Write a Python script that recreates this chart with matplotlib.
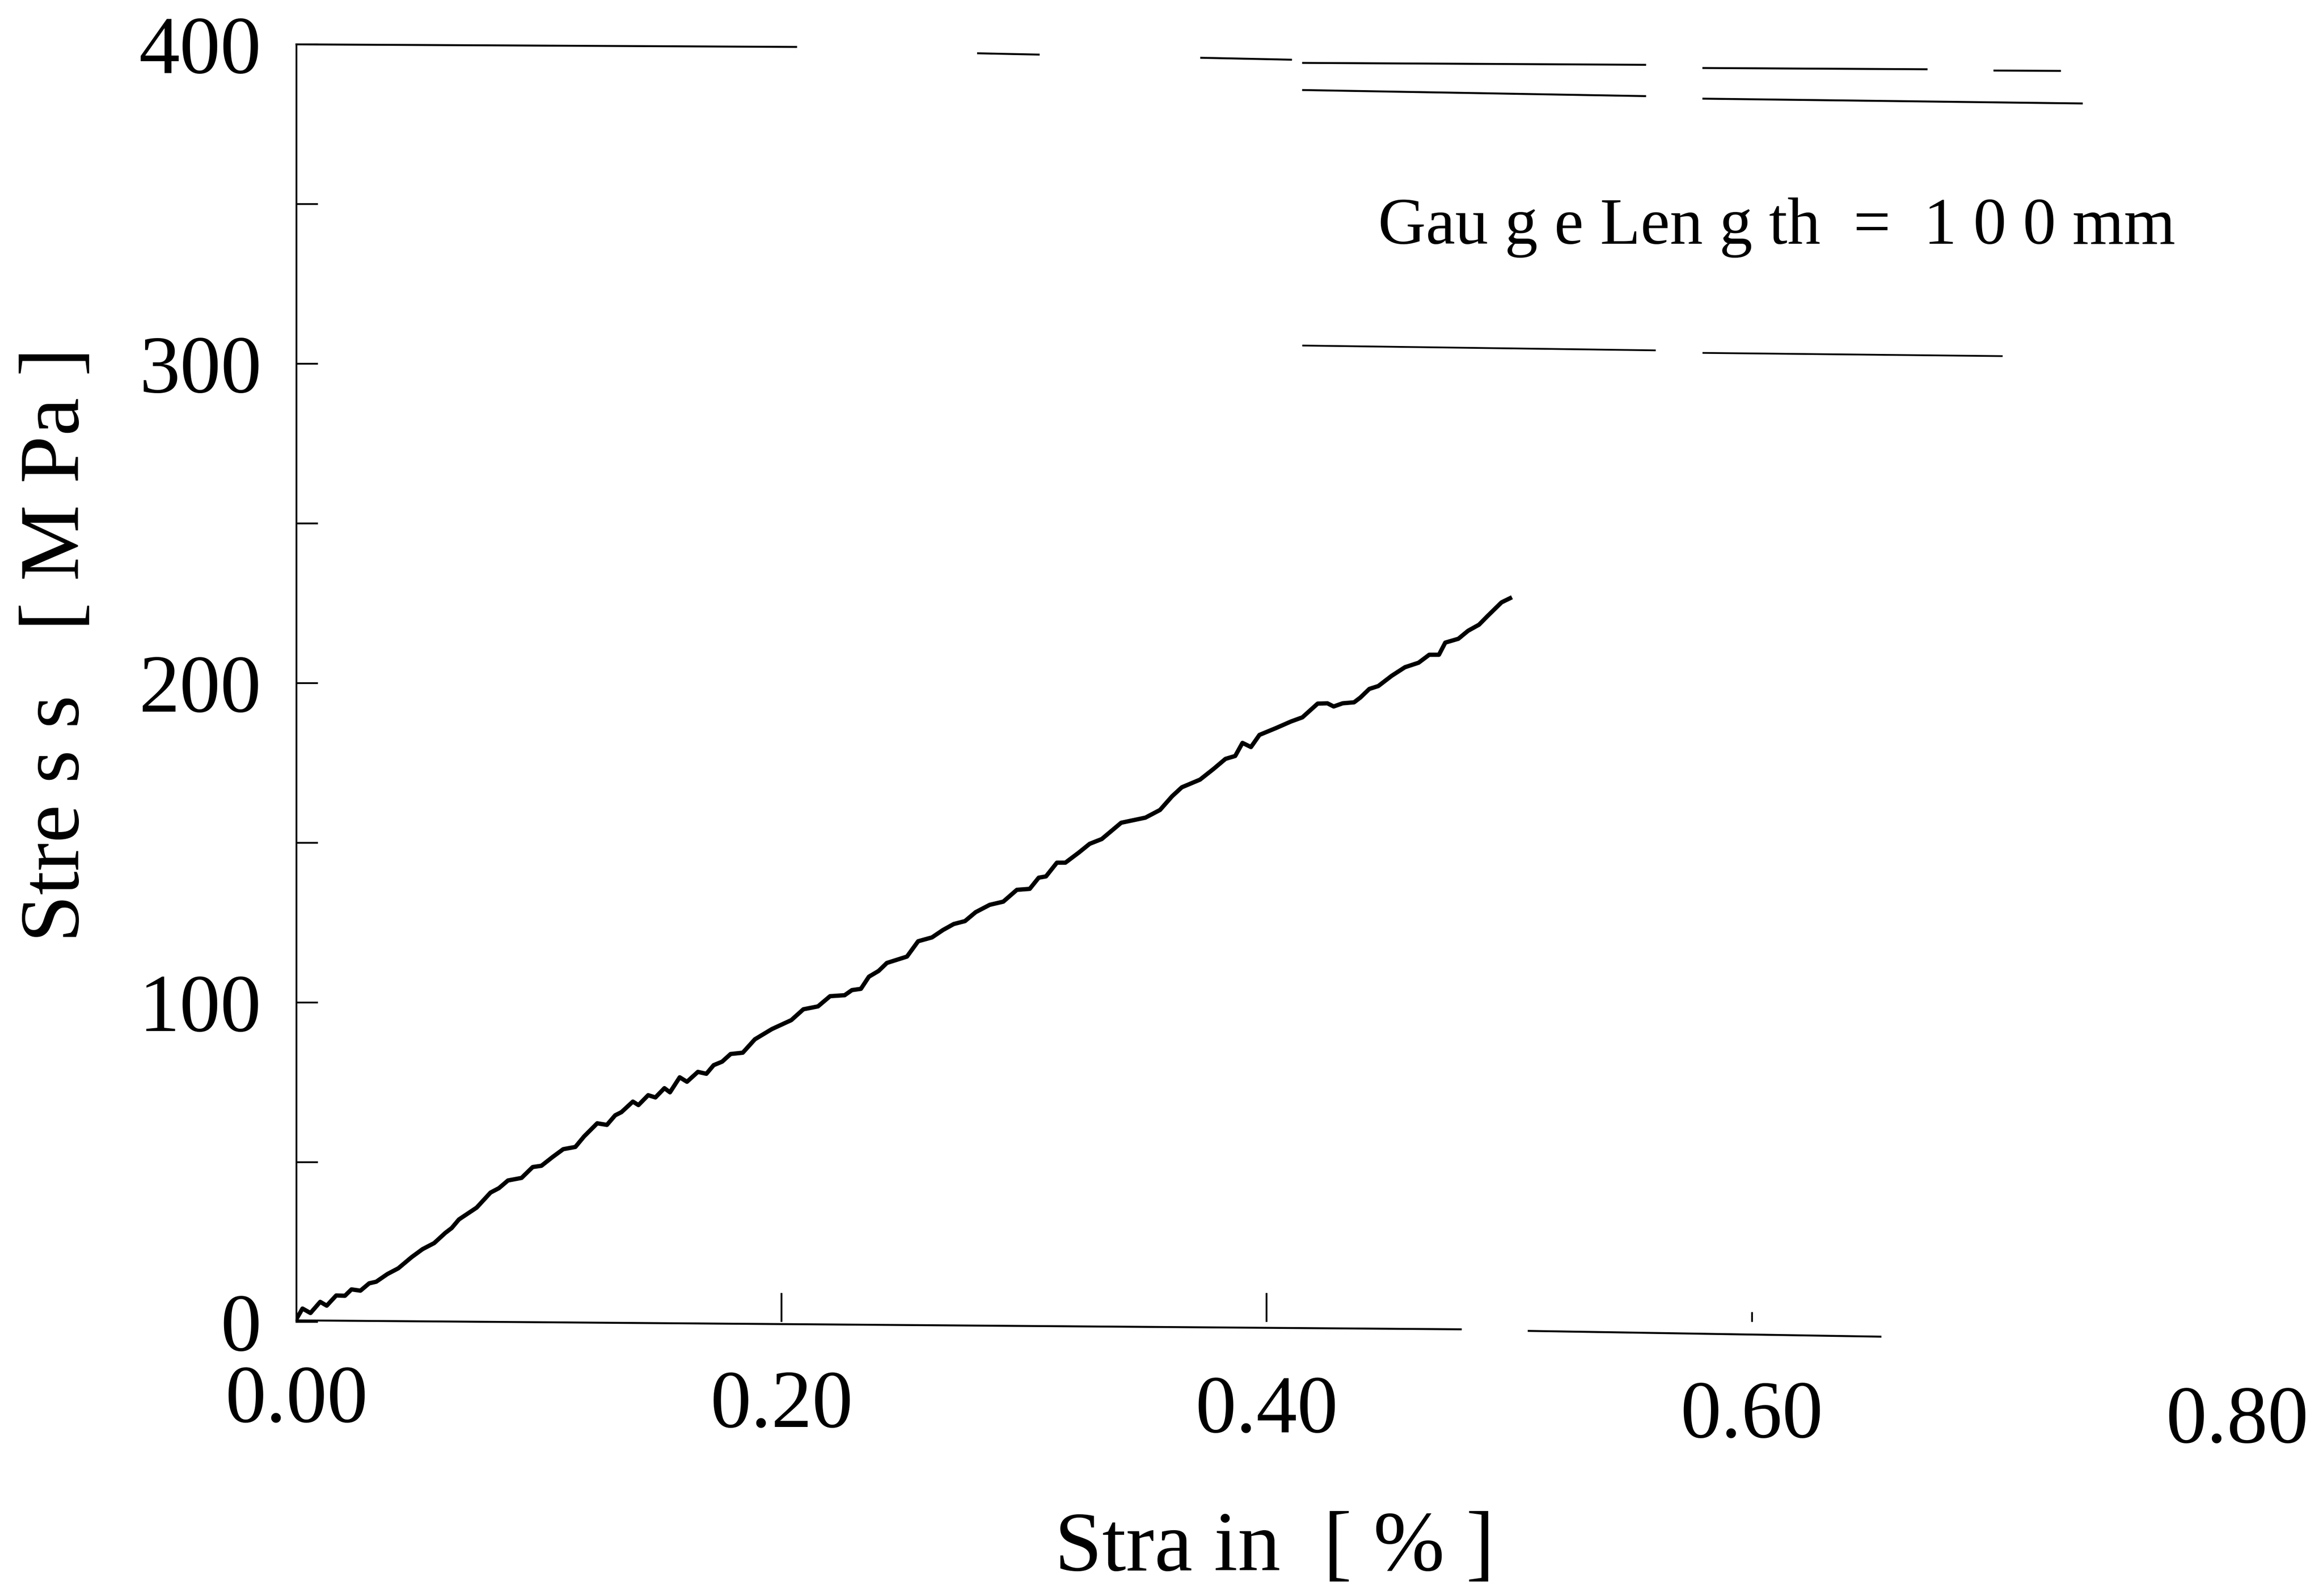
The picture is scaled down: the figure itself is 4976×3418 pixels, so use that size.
import numpy as np
import matplotlib
matplotlib.use('Agg')
import matplotlib.pyplot as plt

# stress-strain curve
strain = [0.0, 0.0025, 0.0058, 0.0098, 0.0125, 0.0164, 0.020, 0.0227, 0.0264, 0.030,
          0.0329, 0.0375, 0.042, 0.0475, 0.052, 0.0568, 0.0614, 0.064, 0.067, 0.0743,
          0.080, 0.0835, 0.0872, 0.0928, 0.0974, 0.101, 0.1057, 0.110, 0.115, 0.1186,
          0.124, 0.128, 0.1314, 0.134, 0.1387, 0.141, 0.145, 0.148, 0.1517, 0.154,
          0.158, 0.161, 0.1655, 0.169, 0.172, 0.1755, 0.179, 0.184, 0.189, 0.196,
          0.204, 0.209, 0.215, 0.220, 0.226, 0.229, 0.2327, 0.236, 0.240, 0.2434,
          0.2517, 0.2563, 0.262, 0.2665, 0.271, 0.2756, 0.280, 0.2858, 0.2914, 0.297,
          0.3023, 0.306, 0.309, 0.3135, 0.317, 0.3226, 0.327, 0.332, 0.340, 0.350,
          0.356, 0.361, 0.365, 0.3725, 0.378, 0.383, 0.387, 0.390, 0.3935, 0.397,
          0.404, 0.410, 0.4147, 0.421, 0.425, 0.4276, 0.4313, 0.436, 0.4386, 0.4423,
          0.446, 0.4515, 0.457, 0.4626, 0.467, 0.471, 0.4736, 0.479, 0.483, 0.4875,
          0.491, 0.4968, 0.5003]
stress = [0.9, 4.2, 2.8, 6.3, 5.1, 8.3, 8.2, 10.2, 9.8, 12.1,
          12.6, 15.0, 16.8, 20.3, 22.8, 24.7, 27.9, 29.4, 32.1, 35.8,
          40.5, 41.9, 44.3, 45.1, 48.5, 48.9, 51.7, 54.1, 54.8, 58.1,
          62.2, 61.7, 64.7, 65.7, 69.0, 67.9, 71.0, 70.3, 73.2, 71.9,
          76.6, 75.2, 78.3, 77.7, 80.4, 81.5, 83.9, 84.3, 88.5, 91.7,
          94.5, 97.9, 98.8, 102.0, 102.3, 103.9, 104.3, 108.1, 109.9, 112.4,
          114.4, 119.2, 120.4, 122.7, 124.6, 125.5, 128.3, 130.6, 131.6, 135.3,
          135.6, 139.1, 139.5, 143.8, 143.8, 147.0, 149.7, 151.2, 156.3, 157.9,
          160.3, 164.6, 167.4, 169.8, 173.1, 176.3, 177.2, 181.3, 180.0, 183.8,
          186.0, 188.0, 189.3, 193.6, 193.7, 192.7, 193.7, 194.0, 195.5, 198.2,
          199.1, 202.3, 205.0, 206.4, 208.9, 208.9, 212.7, 213.9, 216.4, 218.3,
          221.0, 225.3, 226.6]

# frame lines as they appear on the (slightly tilted) scan, NaN = gap
top_x = [0.0, 0.206, np.nan, 0.281, 0.306, np.nan, 0.373, 0.41, np.nan, 0.415, 0.556, np.nan,
         0.580, 0.672, np.nan, 0.700, 0.727]
top_y = [400.0, 399.2, np.nan, 397.2, 396.8, np.nan, 395.8, 395.2, np.nan, 394.2, 393.6, np.nan,
         392.6, 392.2, np.nan, 391.8, 391.7]
bottom_x = [0.0, 0.48, np.nan, 0.508, 0.653]
bottom_y = [0.5, -2.3, np.nan, -2.8, -4.6]

# stray horizontal traces on the scan
streak1_x = [0.415, 0.556, np.nan, 0.580, 0.736]
streak1_y = [385.7, 383.8, np.nan, 383.0, 381.5]
streak2_x = [0.415, 0.560, np.nan, 0.580, 0.703]
streak2_y = [305.7, 304.2, np.nan, 303.4, 302.4]

xticks = [0.0, 0.2, 0.4, 0.6, 0.8]
xtick_labels = ['0.00', '0.20', '0.40', '0.60', '0.80']
yticks = [0, 50, 100, 150, 200, 250, 300, 350, 400]
ytick_labels = ['0', '', '100', '', '200', '', '300', '', '400']

plt.rcParams['font.family'] = ['Liberation Serif', 'DejaVu Serif']

fig = plt.figure(figsize=(4976 / 300, 3418 / 300), dpi=300)
ax = fig.add_axes([0.1276, 0.1717, 0.9630 - 0.1276, 0.9722 - 0.1717])

ax.plot(strain, stress, color='black', linewidth=2.2)
ax.plot(top_x, top_y, color='black', linewidth=1.0, clip_on=False)
ax.plot(bottom_x, bottom_y, color='black', linewidth=1.0, clip_on=False)
ax.plot(streak1_x, streak1_y, color='black', linewidth=1.0)
ax.plot(streak2_x, streak2_y, color='black', linewidth=0.9)

ax.set_xlim(0, 0.8)
ax.set_ylim(0, 400)
for s in ['top', 'right', 'bottom']:
    ax.spines[s].set_visible(False)
ax.spines['left'].set_linewidth(0.9)

ax.set_xticks(xticks)
ax.set_xticklabels(xtick_labels)
ax.set_yticks(yticks)
ax.set_yticklabels(ytick_labels)
ax.tick_params(axis='x', direction='in', length=15, width=0.9, pad=22, labelsize=42)
ax.tick_params(axis='y', direction='in', length=11, width=0.9, pad=18, labelsize=42)

xt = ax.xaxis.get_major_ticks()
xt[0].tick1line.set_visible(False)
xt[3].tick1line.set_markersize(5)
xt[4].tick1line.set_visible(False)
for i, lab in enumerate(ax.get_xticklabels()):
    lab.set_y(-0.004 * i)

ax.set_xlabel('Stra in  [ % ]', fontsize=44)
ax.xaxis.set_label_coords(0.504, -0.148)
ax.set_ylabel('Stre s s   [ M Pa ]', fontsize=44)
ax.yaxis.set_label_coords(-0.103, 0.53)

ax.text(0.446, 337.6, 'Gau g e Len g th  =  1 0 0 mm', fontsize=34, ha='left', va='baseline')

fig.savefig('out.png', dpi=300)
